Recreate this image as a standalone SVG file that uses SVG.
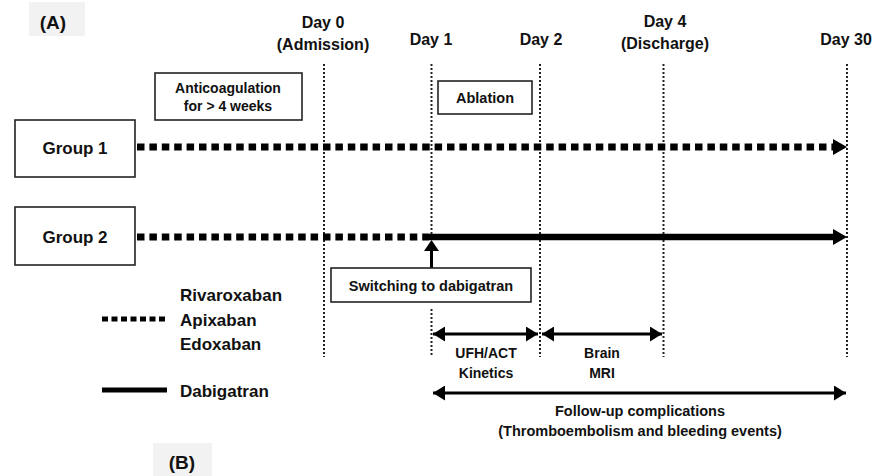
<svg xmlns="http://www.w3.org/2000/svg" width="886" height="476" viewBox="0 0 886 476">
<defs>
<style>
text{font-family:"Liberation Sans",Arial,sans-serif;font-weight:bold;fill:#111;text-anchor:middle}
.box{fill:#fff;stroke:#222;stroke-width:1.6}
.vline{stroke:#222;stroke-width:2;stroke-dasharray:2 2;fill:none}
.dash{stroke:#000;stroke-width:7;stroke-dasharray:7.5 4.9;fill:none}
.solid{stroke:#000;stroke-width:6.5;fill:none}
.thin{stroke:#000;stroke-width:3;fill:none}
.lbl{fill:#f2f2f2}
.h{font-size:16px}
.s{font-size:14.5px}
.g{font-size:17px}
.l{font-size:17px;text-anchor:start}
</style>
<marker id="ah" viewBox="0 0 12 15" refX="12" refY="7.5" markerWidth="4" markerHeight="5" markerUnits="strokeWidth" orient="auto-start-reverse"><path d="M0,0 L12,7.5 L0,15 z" fill="#000"/></marker>
</defs>
<rect width="886" height="476" fill="#fff"/>
<g id="labelA"><rect class="lbl" x="29" y="2" width="56" height="34"/><text x="53" y="29" style="font-size:19px">(A)</text></g>
<g id="labelB"><rect class="lbl" x="153" y="443" width="59" height="33"/><text x="182" y="469" style="font-size:19px">(B)</text></g>
<g id="headers">
<text class="h" x="323" y="28">Day 0</text>
<text class="h" x="323" y="50">(Admission)</text>
<text class="h" x="431" y="45">Day 1</text>
<text class="h" x="541" y="45">Day 2</text>
<text class="h" x="665" y="27">Day 4</text>
<text class="h" x="665" y="49">(Discharge)</text>
<text class="h" x="846" y="45">Day 30</text>
</g>
<g id="connectors">
<line class="vline" x1="324" y1="64" x2="324" y2="357"/>
<line class="vline" x1="431.5" y1="64" x2="431.5" y2="236"/>
<line class="vline" x1="431.5" y1="309" x2="431.5" y2="357"/>
<line class="vline" x1="540" y1="64" x2="540" y2="357"/>
<line class="vline" x1="663.5" y1="64" x2="663.5" y2="357"/>
<line class="vline" x1="847" y1="64" x2="847" y2="357"/>
<line class="dash" x1="137" y1="147" x2="833" y2="147"/>
<path d="M833,139 L847,147 L833,155 z" fill="#000"/>
<line class="dash" x1="137" y1="237" x2="429" y2="237"/>
<line class="solid" x1="429" y1="237" x2="834" y2="237"/>
<path d="M833,229 L847,237 L833,245 z" fill="#000"/>
<line class="thin" x1="431.5" y1="268" x2="431.5" y2="249"/>
<path d="M424,251 L431.5,240 L439,251 z" fill="#000"/>
<line class="thin" x1="433" y1="334" x2="538" y2="334" marker-start="url(#ah)" marker-end="url(#ah)"/>
<line class="thin" x1="542" y1="334" x2="662" y2="334" marker-start="url(#ah)" marker-end="url(#ah)"/>
<line class="thin" x1="433" y1="393" x2="846" y2="393" marker-start="url(#ah)" marker-end="url(#ah)"/>
<line x1="102" y1="319" x2="166" y2="319" style="stroke:#000;stroke-width:5;stroke-dasharray:6 3.5"/>
<line x1="102" y1="390" x2="167" y2="390" style="stroke:#000;stroke-width:5"/>
</g>
<g id="anticoag"><rect class="box" x="155" y="73" width="147" height="47"/><text class="s" x="228" y="93" style="font-size:14px">Anticoagulation</text><text class="s" x="228" y="111" style="font-size:14px">for &gt; 4 weeks</text></g>
<g id="ablation"><rect class="box" x="438" y="81" width="94" height="33"/><text class="s" x="485" y="103">Ablation</text></g>
<g id="group1"><rect class="box" x="15" y="120" width="120" height="57"/><text class="g" x="75" y="154">Group 1</text></g>
<g id="group2"><rect class="box" x="15" y="207" width="120" height="58"/><text class="g" x="75" y="243">Group 2</text></g>
<g id="switching"><rect class="box" x="331" y="268" width="200" height="34"/><text class="s" x="431" y="291">Switching to dabigatran</text></g>
<g id="legend">
<text class="l" x="180" y="301">Rivaroxaban</text>
<text class="l" x="180" y="326">Apixaban</text>
<text class="l" x="180" y="350">Edoxaban</text>
<text class="l" x="180" y="397">Dabigatran</text>
</g>
<g id="intervals">
<text class="s" x="486" y="358" style="font-size:14px">UFH/ACT</text>
<text class="s" x="486" y="378" style="font-size:14px">Kinetics</text>
<text class="s" x="602" y="358" style="font-size:14px">Brain</text>
<text class="s" x="602" y="378" style="font-size:14px">MRI</text>
<text class="s" x="640" y="416">Follow-up complications</text>
<text class="s" x="640" y="436">(Thromboembolism and bleeding events)</text>
</g>
</svg>
